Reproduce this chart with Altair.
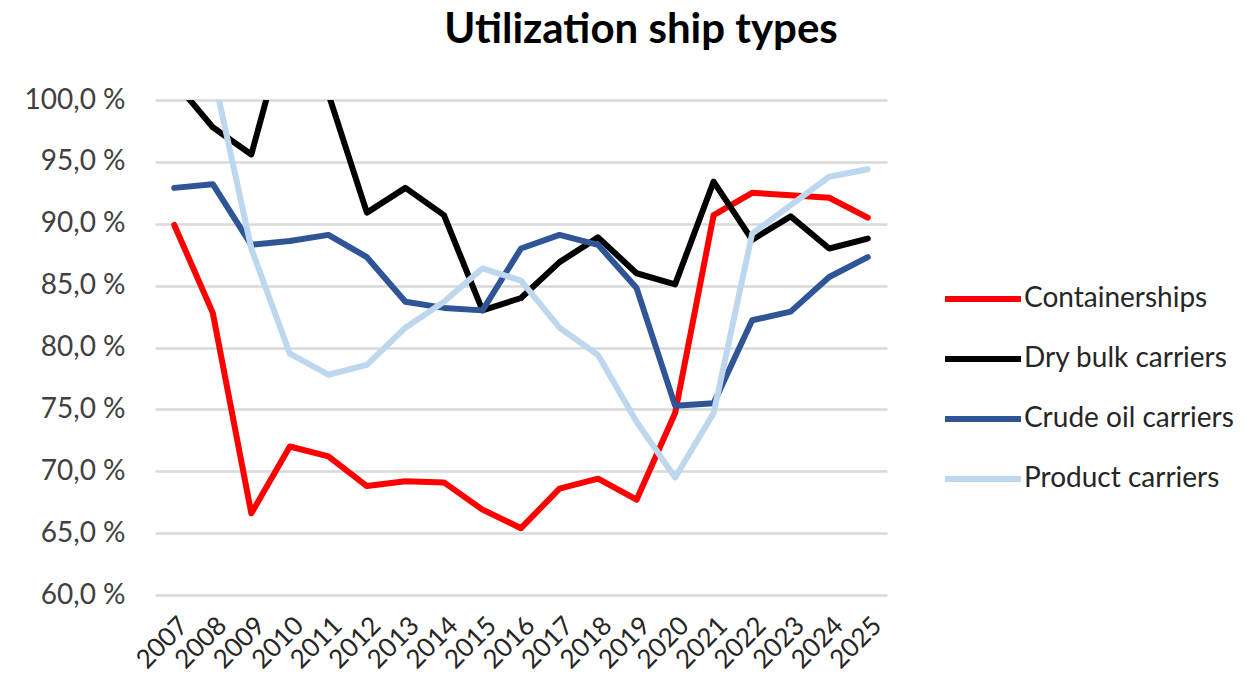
import altair as alt
import pandas as pd

years = [str(y) for y in range(2007, 2026)]
series_names = ["Containerships", "Dry bulk carriers", "Crude oil carriers", "Product carriers"]
series_colors = ["#FF0000", "#000000", "#2F5597", "#BDD7EE"]

containerships = [89.9, 82.8, 66.6, 72.0, 71.2, 68.8, 69.2, 69.1, 66.9, 65.4, 68.6, 69.4, 67.7, 74.7, 90.7, 92.5, 92.3, 92.1, 90.5]
dry_bulk = [101.5, 97.8, 95.6, 107.0, 100.5, 90.9, 92.9, 90.7, 83.0, 84.0, 86.9, 88.9, 86.0, 85.1, 93.4, 88.7, 90.6, 88.0, 88.8]
crude_oil = [92.9, 93.2, 88.3, 88.6, 89.1, 87.3, 83.7, 83.2, 83.0, 88.0, 89.1, 88.3, 84.8, 75.3, 75.5, 82.2, 82.9, 85.7, 87.3]
product = [103.0, 102.3, 88.0, 79.5, 77.8, 78.6, 81.6, 83.7, 86.4, 85.4, 81.6, 79.4, 74.0, 69.5, 74.7, 89.2, 91.5, 93.8, 94.4]

y_ticks = [60, 65, 70, 75, 80, 85, 90, 95, 100]

rows = []
for name, vals in zip(series_names, [containerships, dry_bulk, crude_oil, product]):
    for yr, v in zip(years, vals):
        rows.append({"Year": yr, "Series": name, "Value": v})
df = pd.DataFrame(rows)

FONT = "Lato"

chart = alt.Chart(df).mark_line(
    clip=True, strokeWidth=6, strokeJoin="round", strokeCap="round"
).encode(
    x=alt.X("Year:O", sort=years, title=None,
            scale=alt.Scale(type="point", padding=0.5),
            axis=alt.Axis(labelAngle=-45, labelFontSize=26, labelColor="#262626",
                          labelFont=FONT, ticks=False, domain=False, grid=False,
                          labelPadding=17, labelOverlap=False)),
    y=alt.Y("Value:Q", title=None,
            scale=alt.Scale(domain=[60, 100], nice=False, zero=False),
            axis=alt.Axis(values=y_ticks, labelFontSize=28, labelColor="#404040",
                          labelFont=FONT, ticks=False, domain=False,
                          labelPadding=30, gridColor="#D9D9D9", gridWidth=2.5,
                          labelExpr="replace(format(datum.value, '.1f'), '.', ',') + ' %'")),
    color=alt.Color("Series:N", sort=series_names,
                    scale=alt.Scale(domain=series_names, range=series_colors),
                    legend=alt.Legend(title=None, orient="none", legendX=787, legendY=158,
                                      symbolType="stroke", symbolSize=5776,
                                      symbolStrokeWidth=6, labelFontSize=28,
                                      labelFont=FONT, labelColor="#262626",
                                      labelOffset=0, rowPadding=5, padding=0,
                                      labelLimit=400)),
    order=alt.Order("Series:N"),
).properties(
    width=732, height=495,
    title=alt.TitleParams("Utilization ship types", fontSize=42, font=FONT,
                          fontWeight="bold", color="#000000", anchor="middle",
                          dx=120, offset=34),
    autosize=alt.AutoSizeParams(type="none"),
    padding={"left": 147, "top": 92, "right": 359, "bottom": 81},
).configure_view(stroke=None)

chart.save("out.html", embed_options={"renderer": "svg", "actions": False})
